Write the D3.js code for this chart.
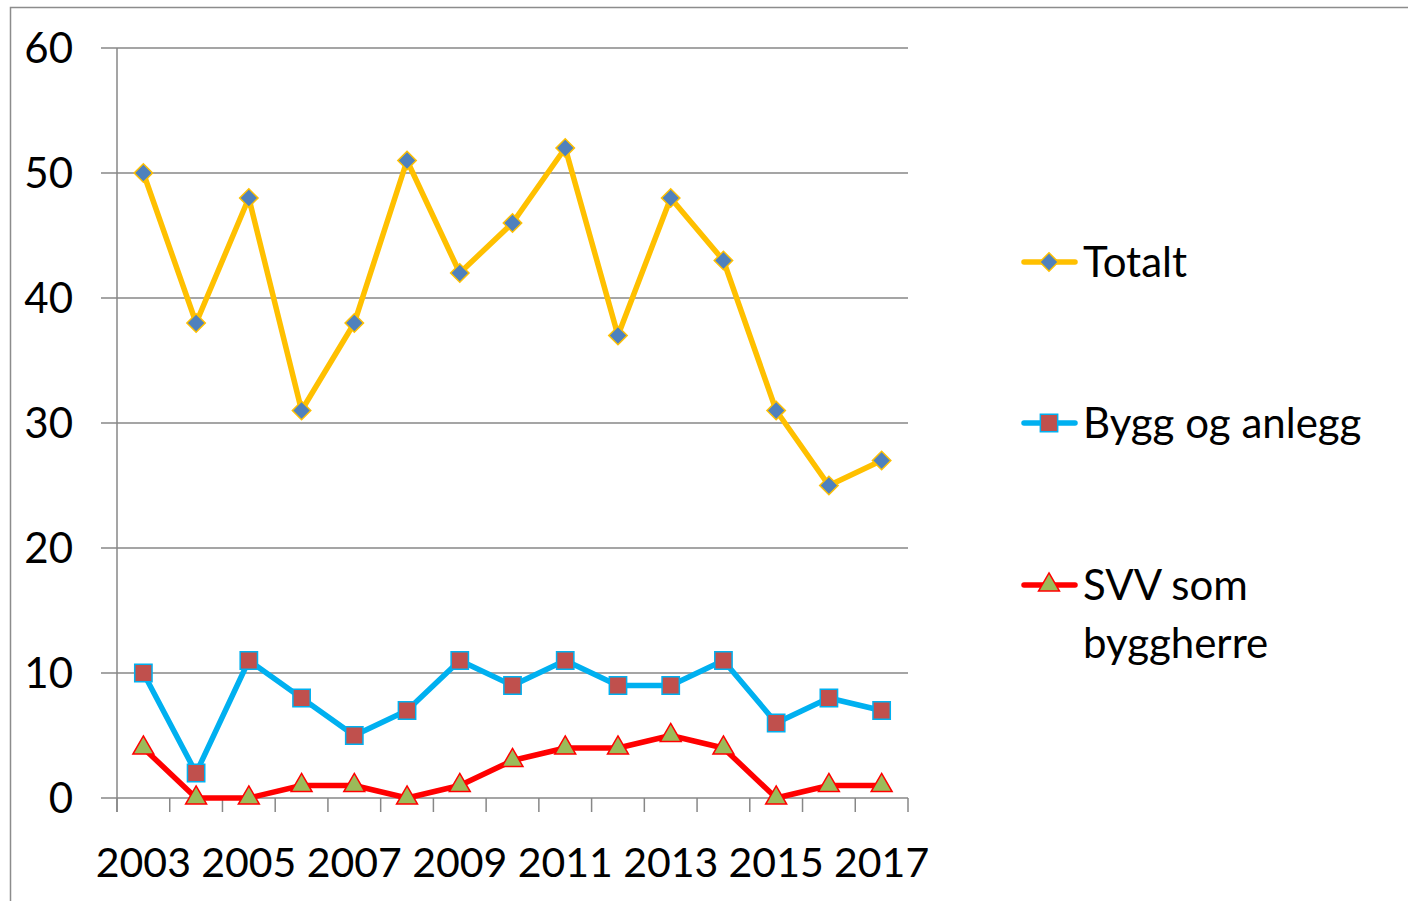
<!DOCTYPE html>
<html><head><meta charset="utf-8">
<script src="https://cdn.jsdelivr.net/npm/d3@7"></script>
<style>body{margin:0;background:#fff}svg{display:block}</style>
</head><body>
<svg id="c" width="1408" height="901"></svg>
<script>
const years = [2003,2004,2005,2006,2007,2008,2009,2010,2011,2012,2013,2014,2015,2016,2017];
const totalt = [50,38,48,31,38,51,42,46,52,37,48,43,31,25,27];
const bygg = [10,2,11,8,5,7,11,9,11,9,9,11,6,8,7];
const svv = [4,0,0,1,1,0,1,3,4,4,5,4,0,1,1];
const yTicks = [0,10,20,30,40,50,60];
const xLabels = [2003,2005,2007,2009,2011,2013,2015,2017];
const seriesNames = ["Totalt","Bygg og anlegg","SVV som byggherre"];

const svg = d3.select("#c");
const font = "Lato, 'Open Sans', sans-serif";
const grid = "#878787";

svg.append("rect").attr("x",10.5).attr("y",7.5).attr("width",1420).attr("height",920)
  .attr("fill","none").attr("stroke","#8c8c8c").attr("stroke-width",1.5);

const L=117, R=908, T=48, B=798;
const x = d3.scaleBand().domain(years).range([L,R]);
const y = d3.scaleLinear().domain([0,60]).range([B,T]);
const cx = d => x(d)+x.bandwidth()/2;

svg.append("g").selectAll("line").data(yTicks).join("line")
  .attr("x1",101).attr("x2",R).attr("y1",d=>y(d)).attr("y2",d=>y(d))
  .attr("stroke",grid).attr("stroke-width",1.5);
svg.append("line").attr("x1",L).attr("x2",L).attr("y1",T).attr("y2",B+14).attr("stroke",grid).attr("stroke-width",1.5);
const bounds = years.map(d=>x(d)).concat([R]);
svg.append("g").selectAll("line").data(bounds).join("line")
  .attr("x1",d=>d).attr("x2",d=>d).attr("y1",B).attr("y2",B+14)
  .attr("stroke",grid).attr("stroke-width",1.5);

svg.append("g").selectAll("text").data(yTicks).join("text")
  .attr("x",73).attr("y",d=>y(d)).attr("dy","0.36em").attr("text-anchor","end")
  .attr("font-family",font).attr("font-size",42).attr("fill","#000").text(d=>d);
svg.append("g").selectAll("text").data(xLabels).join("text")
  .attr("x",d=>cx(d)).attr("y",877).attr("text-anchor","middle")
  .attr("font-family",font).attr("font-size",41).attr("fill","#000").text(d=>d);

const styles = [
  {data:totalt, line:"#FFC000", fill:"#4F81BD", stroke:"#FFC000", sym:d3.symbolSquare, size:170, rot:45},
  {data:bygg, line:"#00B0F0", fill:"#C0504D", stroke:"#00B0F0", sym:d3.symbolSquare, size:300, rot:0},
  {data:svv, line:"#FF0000", fill:"#9BBB59", stroke:"#FF0000", sym:d3.symbolTriangle, size:190, rot:0}
];
const lineGen = d3.line().x((d,i)=>cx(years[i])).y(d=>y(d));
styles.forEach(s=>{
  svg.append("path").datum(s.data).attr("d",lineGen).attr("fill","none")
    .attr("stroke",s.line).attr("stroke-width",5.5).attr("stroke-linejoin","round");
});
styles.forEach(s=>{
  svg.append("g").selectAll("path").data(s.data).join("path")
    .attr("d",d3.symbol().type(s.sym).size(s.size))
    .attr("transform",(d,i)=>`translate(${cx(years[i])},${y(d)}) rotate(${s.rot})`)
    .attr("fill",s.fill).attr("stroke",s.stroke).attr("stroke-width",1.5);
});

const legY = [262,423,585];
const lg = svg.append("g");
styles.forEach((s,i)=>{
  lg.append("line").attr("x1",1024).attr("x2",1075).attr("y1",legY[i]).attr("y2",legY[i])
    .attr("stroke",s.line).attr("stroke-width",5.5).attr("stroke-linecap","round");
  lg.append("path").attr("d",d3.symbol().type(s.sym).size(s.size))
    .attr("transform",`translate(1049,${legY[i]}) rotate(${s.rot})`)
    .attr("fill",s.fill).attr("stroke",s.stroke).attr("stroke-width",1.5);
});
const legText = [[seriesNames[0]],[seriesNames[1]],["SVV som","byggherre"]];
legText.forEach((lines,i)=>{
  const t = lg.append("text").attr("x",1083).attr("y",legY[i]+15)
    .attr("font-family",font).attr("font-size",42).attr("fill","#000");
  lines.forEach((ln,j)=>t.append("tspan").attr("x",1083).attr("dy",j?58:0).text(ln));
});
</script>
</body></html>
